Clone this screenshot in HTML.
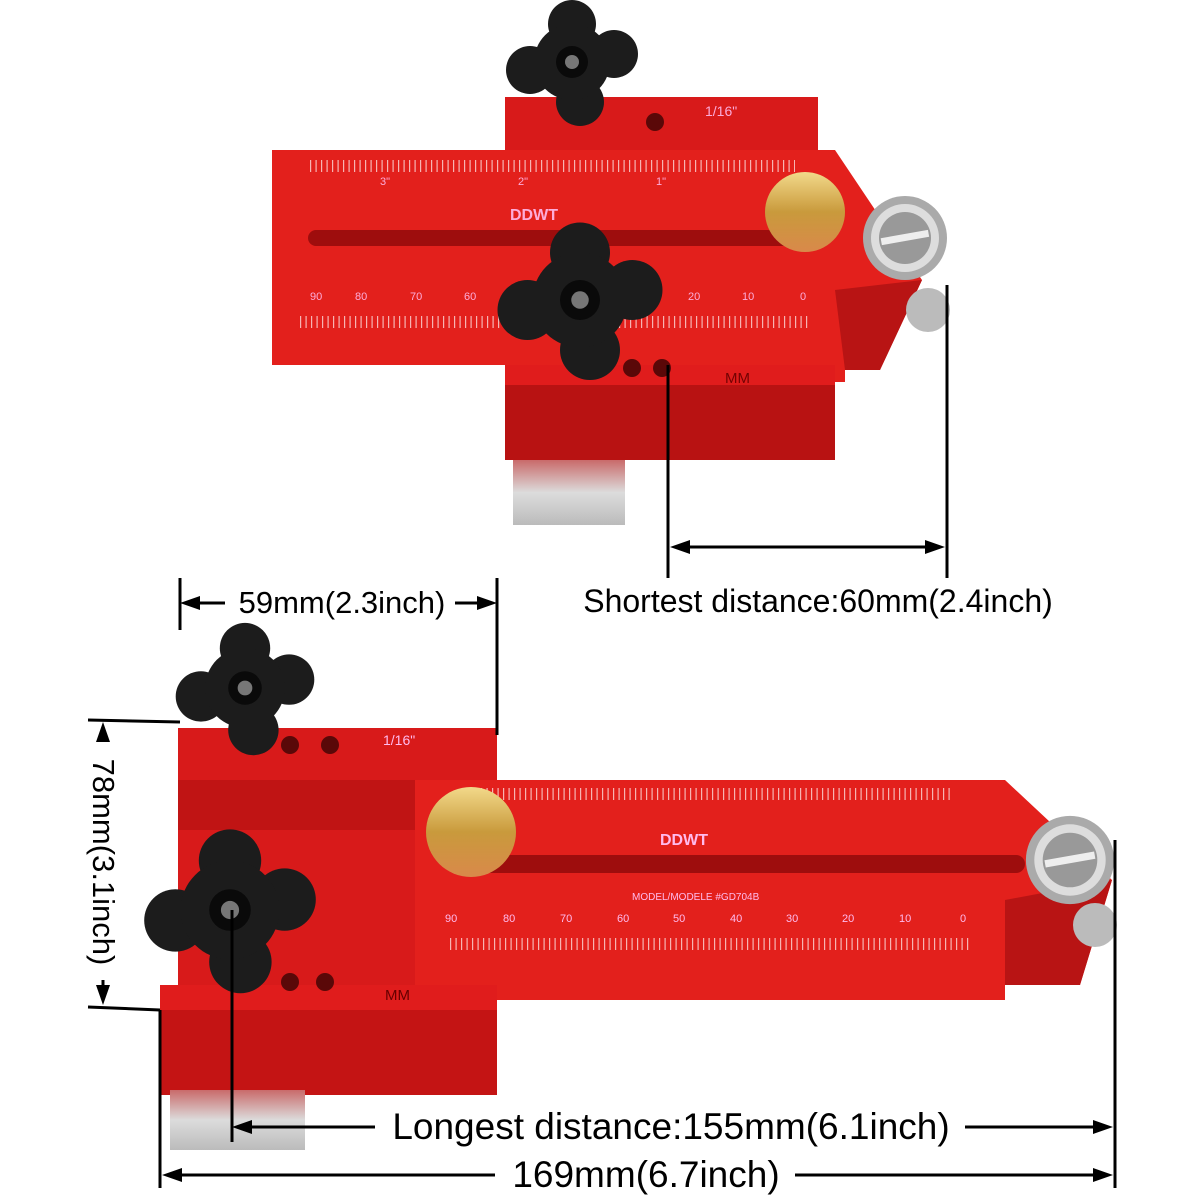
<!DOCTYPE html>
<html><head><style>body{margin:0;background:#fff}svg{display:block}</style></head><body>
<svg width="1200" height="1200" viewBox="0 0 1200 1200" xmlns="http://www.w3.org/2000/svg" font-family="Liberation Sans, sans-serif">
<defs>
<linearGradient id="brass" x1="0" y1="0" x2="0" y2="1"><stop offset="0" stop-color="#f2d98a"/><stop offset="0.5" stop-color="#c99a3c"/><stop offset="1" stop-color="#d9894a"/></linearGradient>
<linearGradient id="silver" x1="0" y1="0" x2="0" y2="1"><stop offset="0" stop-color="#c96a6a"/><stop offset="0.5" stop-color="#dcdcdc"/><stop offset="1" stop-color="#bbbbbb"/></linearGradient>
<g id="knob"><g fill="#1c1c1c"><circle cx="0" cy="-38" r="24"/><circle cx="42" cy="-8" r="24"/><circle cx="8" cy="40" r="24"/><circle cx="-42" cy="8" r="24"/><circle r="38"/></g><circle r="16" fill="#0a0a0a"/><circle r="7" fill="#777"/></g>
<g id="bear"><circle r="42" fill="#aaa"/><circle r="34" fill="#ddd"/><circle r="26" fill="#999"/><rect x="-24" y="-4" width="48" height="7" fill="#eee" transform="rotate(-10)"/></g>
</defs>
<!-- TOP PRODUCT -->
<rect x="505" y="97" width="313" height="70" fill="#d81a1a"/>
<rect x="505" y="330" width="330" height="130" fill="#e01c1c"/>
<rect x="505" y="385" width="330" height="75" fill="#b81212"/>
<rect x="513" y="460" width="112" height="65" fill="url(#silver)"/>
<path d="M272,150 L835,150 L922,280 L880,370 L845,370 L845,382 L835,382 L835,365 L272,365 Z" fill="#e3201c"/>
<path d="M835,290 L922,280 L880,370 L845,370 Z" fill="#b81414"/>
<rect x="308" y="230" width="485" height="16" rx="8" fill="#9e0d0d"/>
<g fill="#fbe" font-size="11" fill-opacity="0.9"><text x="310" y="300">90</text><text x="355" y="300">80</text><text x="410" y="300">70</text><text x="464" y="300">60</text><text x="688" y="300">20</text><text x="742" y="300">10</text><text x="800" y="300">0</text>
<text x="510" y="220" font-size="16" font-weight="bold">DDWT</text><text x="725" y="383" font-size="15" fill="#600">MM</text><text x="705" y="116" font-size="14">1/16"</text>
<text x="380" y="185">3"</text><text x="518" y="185">2"</text><text x="656" y="185">1"</text></g>
<line x1="300" y1="322" x2="808" y2="322" stroke="#fbdada" stroke-width="12" stroke-dasharray="1.2 4.3" stroke-opacity="0.8"/>
<line x1="310" y1="166" x2="795" y2="166" stroke="#fbdada" stroke-width="12" stroke-dasharray="1.2 4.3" stroke-opacity="0.8"/>
<circle cx="632" cy="368" r="9" fill="#5a0808"/><circle cx="662" cy="368" r="9" fill="#5a0808"/><circle cx="655" cy="122" r="9" fill="#5a0808"/>
<use href="#knob" x="572" y="62"/>
<use href="#knob" x="580" y="300" transform="translate(580 300) scale(1.25) translate(-580 -300)"/>
<circle cx="805" cy="212" r="40" fill="url(#brass)"/>
<circle cx="928" cy="310" r="22" fill="#bbb"/>
<use href="#bear" x="905" y="238"/>
<!-- top dims -->
<g stroke="#000" stroke-width="3" fill="none">
<line x1="668" y1="365" x2="668" y2="578"/><line x1="947" y1="285" x2="947" y2="578"/><line x1="685" y1="547" x2="930" y2="547"/>
</g>
<path d="M670,547 l20,-7 v14z M945,547 l-20,-7 v14z" fill="#000"/>
<text x="818" y="612" font-size="32" text-anchor="middle">Shortest distance:60mm(2.4inch)</text>
<!-- BOTTOM PRODUCT -->
<rect x="178" y="728" width="319" height="272" fill="#d81a1a"/>
<rect x="178" y="780" width="240" height="50" fill="#c01414"/>
<path d="M415,780 L1005,780 L1112,880 L1080,985 L1005,985 L1005,1000 L415,1000 Z" fill="#e3201c"/>
<path d="M1005,900 L1112,880 L1080,985 L1005,985 Z" fill="#b81414"/>
<rect x="160" y="985" width="337" height="110" fill="#e01c1c"/>
<rect x="160" y="1010" width="337" height="85" fill="#c41414"/>
<rect x="170" y="1090" width="135" height="60" fill="url(#silver)"/>
<rect x="470" y="855" width="555" height="18" rx="9" fill="#9e0d0d"/>
<line x1="450" y1="944" x2="970" y2="944" stroke="#fbdada" stroke-width="12" stroke-dasharray="1.2 4.3" stroke-opacity="0.8"/>
<line x1="470" y1="794" x2="950" y2="794" stroke="#fbdada" stroke-width="12" stroke-dasharray="1.2 4.3" stroke-opacity="0.8"/>
<g fill="#fbe" font-size="11"><text x="445" y="922">90</text><text x="503" y="922">80</text><text x="560" y="922">70</text><text x="617" y="922">60</text><text x="673" y="922">50</text><text x="730" y="922">40</text><text x="786" y="922">30</text><text x="842" y="922">20</text><text x="899" y="922">10</text><text x="960" y="922">0</text>
<text x="660" y="845" font-size="16" font-weight="bold">DDWT</text><text x="632" y="900" font-size="10">MODEL/MODELE #GD704B</text><text x="383" y="745" font-size="14">1/16"</text><text x="385" y="1000" font-size="15" fill="#600">MM</text></g>
<circle cx="290" cy="745" r="9" fill="#5a0808"/><circle cx="330" cy="745" r="9" fill="#5a0808"/><circle cx="290" cy="982" r="9" fill="#5a0808"/><circle cx="325" cy="982" r="9" fill="#5a0808"/>
<use href="#knob" x="245" y="688" transform="translate(245 688) scale(1.05) translate(-245 -688)"/>
<use href="#knob" x="230" y="910" transform="translate(230 910) scale(1.3) translate(-230 -910)"/>
<circle cx="471" cy="832" r="45" fill="url(#brass)"/>
<circle cx="1095" cy="925" r="22" fill="#bbb"/>
<use href="#bear" x="1070" y="860" transform="translate(1070 860) scale(1.05) translate(-1070 -860)"/>
<!-- bottom dims -->
<g stroke="#000" stroke-width="3" fill="none">
<line x1="180" y1="578" x2="180" y2="630"/><line x1="497" y1="578" x2="497" y2="735"/>
<line x1="195" y1="603" x2="225" y2="603"/><line x1="455" y1="603" x2="482" y2="603"/>
<line x1="88" y1="720" x2="180" y2="722"/><line x1="88" y1="1007" x2="160" y2="1010"/>
<line x1="103" y1="735" x2="103" y2="740"/><line x1="103" y1="980" x2="103" y2="992"/>
<line x1="232" y1="910" x2="232" y2="1142"/><line x1="1115" y1="840" x2="1115" y2="1188"/><line x1="160" y1="1010" x2="160" y2="1188"/>
<line x1="245" y1="1127" x2="375" y2="1127"/><line x1="965" y1="1127" x2="1100" y2="1127"/>
<line x1="175" y1="1175" x2="495" y2="1175"/><line x1="795" y1="1175" x2="1100" y2="1175"/>
</g>
<path d="M180,603 l20,-7 v14z M497,603 l-20,-7 v14z M103,722 l-7,20 h14z M103,1005 l-7,-20 h14z M232,1127 l20,-7 v14z M1113,1127 l-20,-7 v14z M162,1175 l20,-7 v14z M1113,1175 l-20,-7 v14z" fill="#000"/>
<text x="342" y="613" font-size="31" text-anchor="middle">59mm(2.3inch)</text>
<text transform="translate(93 862) rotate(90)" font-size="31" text-anchor="middle">78mm(3.1inch)</text>
<text x="671" y="1139" font-size="37" text-anchor="middle">Longest distance:155mm(6.1inch)</text>
<text x="646" y="1187" font-size="37" text-anchor="middle">169mm(6.7inch)</text>
</svg>
</body></html>
